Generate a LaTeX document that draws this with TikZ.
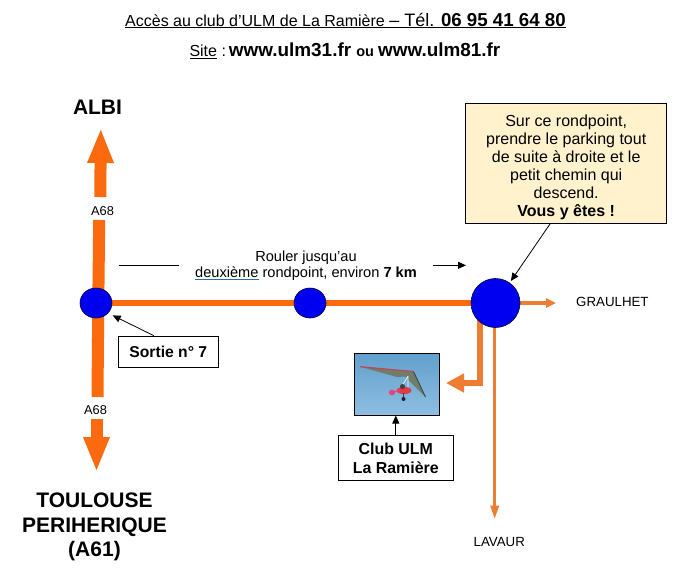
\documentclass[tikz,border=0pt]{standalone}
\usepackage{fontspec}
\setmainfont{Liberation Sans}
\usetikzlibrary{arrows.meta,backgrounds,shapes.geometric,calc}
\definecolor{roadmain}{HTML}{FB6A0E}
\definecolor{roadside}{HTML}{ED7D31}
\definecolor{rondblue}{HTML}{0000F0}
\definecolor{notefill}{HTML}{FFF2CC}
\definecolor{skytop}{RGB}{98,160,205}
\definecolor{skybot}{RGB}{142,190,225}
\definecolor{wingfill}{RGB}{112,125,105}
\definecolor{wingedge}{RGB}{190,70,90}
\definecolor{wingdark}{RGB}{60,70,70}
\definecolor{podred}{RGB}{222,60,70}
\definecolor{podpink}{RGB}{225,70,130}
\definecolor{wheeldark}{RGB}{30,30,60}
\newcommand{\fs}[1]{\fontsize{#1}{#1}\selectfont}
\tikzset{
  txt/.style={inner sep=0pt,anchor=base,text=black},
  rond/.style={ellipse,draw=black!80!blue,line width=0.6pt,fill=rondblue,inner sep=0pt},
  mainroad/.style={draw=roadmain,line width=12pt},
  lateral/.style={draw=roadmain,line width=6.2pt},
  sideroad/.style={draw=roadside},
  labelbox/.style={draw=black,line width=0.8pt,fill=white,inner sep=0pt,align=center},
  pointer/.style={draw=black,line width=0.8pt,-{Triangle[length=8pt,width=7pt]}},
  placename/.style={txt,font=\fs{13.3}},
}
\begin{document}
\begin{tikzpicture}[x=1pt,y=-1pt]
\useasboundingbox (0,0) rectangle (694,582);

% header
\node[txt,anchor=base west] (title) at (125,26) {\underline{\fs{16}Accès au club d’ULM de La Ramière \fs{18}– Tél. \fs{18.7}\bfseries 06 95 41 64 80}};
\node[txt,anchor=base west] (site) at (189.3,56.7) {\fs{16}\underline{Site} :\hspace{3pt}\fs{18.9}\bfseries www.ulm31.fr \fs{14.5}ou \fs{18.9}www.ulm81.fr};

% place names
\node[txt,font=\fs{21}\bfseries] (albi) at (97.5,114) {ALBI};
\node[inner sep=0pt,align=center,font=\fontsize{21}{24.6}\selectfont\bfseries] (toulouse) at (94.5,527) {TOULOUSE\\PERIHERIQUE\\(A61)};
\node[placename,anchor=base west] (graulhet) at (576,306) {GRAULHET};
\node[placename] (lavaur) at (499.3,546.5) {LAVAUR};

% A68 labels
\node[txt,font=\fs{12.8}] (a68top) at (102.5,215) {A68};
\node[txt,font=\fs{12.8}] (a68bot) at (95.5,414) {A68};

% roundabouts
\node[rond,minimum width=32pt,minimum height=30pt] (c1) at (96,303) {};
\node[rond,minimum width=32pt,minimum height=30pt] (c2) at (310,303) {};
\node[rond,minimum width=49pt,minimum height=49pt] (c3) at (495.5,303) {};

% road end points
\coordinate (topgap1) at (100.3,197);
\coordinate (toptip) at (100.8,128);
\coordinate (topgap2) at (99.2,220);
\coordinate (midroad) at (98.3,303);
\coordinate (botgap1) at (97.5,397);
\coordinate (botgap2) at (96.5,419);
\coordinate (bottip) at (96.5,472);
\coordinate (grautip) at (556,303);
\coordinate (lavtip) at (494.7,519.5);
\coordinate (bend) at (480.3,383);
\coordinate (parktip) at (446,383);

% roads under the roundabouts
\begin{scope}[on background layer]
  \fill[white] (0,0) rectangle (694,582);
  \draw[mainroad,-{Triangle[length=35pt,width=24pt]}] (topgap1) -- (toptip);
  \draw[mainroad] (topgap2) -- (midroad) -- (botgap1);
  \draw[mainroad,-{Triangle[length=35pt,width=24pt]}] (botgap2) -- (bottip);
  \draw[lateral] (c1.center) -- (c2.center) -- (c3.center);
  \draw[sideroad,line width=3.6pt,-{Triangle[length=10pt,width=9pt]}] (c3.center) -- (grautip);
  \draw[sideroad,line width=3.4pt,-{Triangle[length=14pt,width=8pt]}] (c3.center -| lavtip) -- (lavtip);
  \draw[sideroad,line width=6pt,-{Triangle[length=18pt,width=18pt]}] (c3.center -| bend) -- (bend) -- (parktip);
\end{scope}

% drive instruction
\node[inner sep=0pt,align=center,font=\fontsize{14.6}{16.4}\selectfont] (drive) at (306,265.5)
  {Rouler jusqu’au\\{\color[HTML]{2E6DA4}\underline{\textcolor{black}{deuxième}}} rondpoint, environ \textbf{7 km}};
\coordinate (ruleA) at (118.5,265);
\coordinate (ruleB) at (179,265);
\coordinate (ruleC) at (433,265.3);
\coordinate (ruleD) at (466,265.3);
\draw[draw=black,line width=0.8pt] (ruleA) -- (ruleB);
\draw[pointer] (ruleC) -- (ruleD);

% note
\node[labelbox,fill=notefill,minimum width=201pt,minimum height=119.6pt,font=\fontsize{16}{18.1}\selectfont] (note) at (566.2,163.5)
  {\rule{0pt}{19pt}Sur ce rondpoint,\\prendre le parking tout\\de suite à droite et le\\petit chemin qui\\descend.\\\textbf{Vous y êtes !}};
\draw[pointer,shorten >=2pt] ([xshift=-16pt]note.south) -- (c3.55);

% exit label
\node[labelbox,minimum width=100.5pt,minimum height=31pt,font=\fs{15.7}\bfseries] (sortie) at (168.3,351.5) {Sortie n° 7};
\draw[pointer,shorten >=5pt] ([xshift=-14.6pt]sortie.north) -- (c1.-40);

% photo
\begin{scope}
  \clip (354,353) rectangle (439.5,415);
  \shade[top color=skytop,bottom color=skybot] (354,353) rectangle (439.5,415);
  \fill[wingfill] (360,366.7) -- (413.5,371.5) -- (425.5,397) -- (405,376.5) -- (397,377) -- cycle;
  \draw[wingedge,line width=1.2pt] (360,366.7) -- (413.5,371.5);
  \draw[wingdark,line width=0.9pt] (413.5,371.5) -- (425.5,397);
  \draw[white,line width=0.6pt] (408,376) -- (402,386) (408,376) -- (408,387);
  \fill[podred] (404,390.5) ellipse (7.5 and 3.6);
  \fill[podpink] (392,392.5) ellipse (3.2 and 2.8);
  \draw[podpink,line width=1.2pt] (392,392.5) -- (400,390);
  \fill[black!75] (402.5,386.5) circle (2.5);
  \draw[black!75,line width=0.7pt] (403.5,393) -- (403.5,398);
  \fill[wheeldark] (403.5,399) circle (2);
\end{scope}
\node[draw=black,line width=1pt,minimum width=85.5pt,minimum height=62pt,inner sep=0pt] (photo) at (396.75,384) {};

% club label
\node[labelbox,minimum width=115pt,minimum height=45pt,font=\fontsize{15.9}{19}\selectfont\bfseries] (club) at (395.8,457.5) {\rule{0pt}{14pt}Club ULM\\La Ramière};
\draw[pointer] (club.north) -- (club.north |- photo.south);
\end{tikzpicture}
\end{document}
